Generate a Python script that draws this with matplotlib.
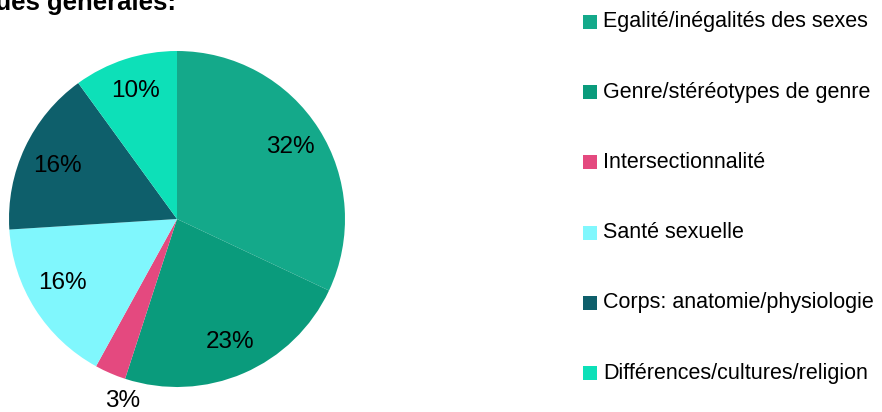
import matplotlib.pyplot as plt
from matplotlib.patches import Rectangle

# data
labels = ['Egalité/inégalités des sexes', 'Genre/stéréotypes de genre',
          'Intersectionnalité', 'Santé sexuelle',
          'Corps: anatomie/physiologie', 'Différences/cultures/religion']
values = [32, 23, 3, 16, 16, 10]
colors = ['#14A98A', '#0A9B7C', '#E4497F', '#80F7FD', '#0E5F6B', '#0DE0B8']
title = 'Thématiques générales:'

plt.rcParams['font.family'] = ['Liberation Sans', 'DejaVu Sans']

W, H = 882, 412
fig = plt.figure(figsize=(W / 100, H / 100), dpi=100)

# pie axes: centre (177, 219) px, radius 168 px
cx, cy, r = 177, 219, 168
ax = fig.add_axes([(cx - r) / W, (H - cy - r) / H, 2 * r / W, 2 * r / H])
wedges, texts, autotexts = ax.pie(values, colors=colors, startangle=90, counterclock=False,
                                  autopct='%1.0f%%', pctdistance=0.8,
                                  wedgeprops=dict(linewidth=0),
                                  textprops=dict(fontsize=17.5, color='black'))
ax.set_xlim(-1, 1)
ax.set_ylim(-1, 1)
ax.set_aspect('equal')

# label nudges, as placed in the original
autotexts[2].set_position((-0.324, -1.083))   # small slice: outside
autotexts[3].set_position((-0.682, -0.381))
autotexts[4].set_position((-0.714, 0.315))

# title, cut off on the left like the original
fig.text(176 / W, 1 - 10 / H, title, ha='right', va='baseline',
         fontsize=18.5, fontweight='bold')

# legend
for i, (lab, col) in enumerate(zip(labels, colors)):
    yc = 22 + i * 70.2
    fig.patches.append(Rectangle((583 / W, 1 - (yc + 7) / H), 14 / W, 14 / H,
                                 transform=fig.transFigure, facecolor=col, edgecolor='none'))
    fig.text(603 / W, 1 - yc / H, lab, ha='left', va='center', fontsize=15.5)

fig.savefig('out.png', dpi=100)
